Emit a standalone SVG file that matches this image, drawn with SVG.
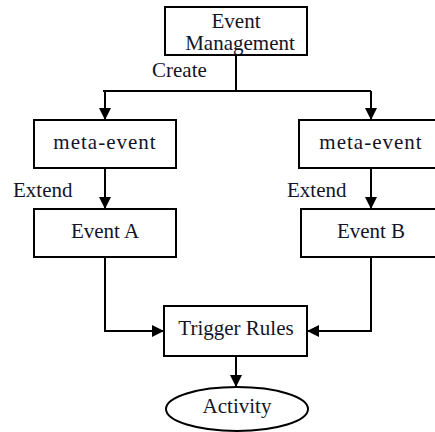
<svg xmlns="http://www.w3.org/2000/svg" width="435" height="432" viewBox="0 0 435 432">
<defs>
<marker id="arr" viewBox="0 0 12 12" refX="12" refY="6" markerWidth="12" markerHeight="12" markerUnits="userSpaceOnUse" orient="auto">
<path d="M0,0 L12,6 L0,12 Z" fill="#000"/>
</marker>
<style>
.box{fill:#fff;stroke:#000;stroke-width:2}
.t{font-family:"Liberation Serif","Times New Roman",serif;font-size:21px;fill:#141428}
.c{text-anchor:middle}
.ln{fill:none;stroke:#000;stroke-width:2}
</style>
</defs>
<rect width="435" height="432" fill="#fff"/>
<g id="connectors">
<path class="ln" d="M236,55 V91"/>
<path class="ln" d="M103,91 H371"/>
<path class="ln" d="M105,91 V120" marker-end="url(#arr)"/>
<path class="ln" d="M371,91 V120" marker-end="url(#arr)"/>
<path class="ln" d="M105,168 V209" marker-end="url(#arr)"/>
<path class="ln" d="M371,168 V209" marker-end="url(#arr)"/>
<path class="ln" d="M105,257 V331 H164" marker-end="url(#arr)"/>
<path class="ln" d="M371,257 V331 H307" marker-end="url(#arr)"/>
<path class="ln" d="M236,356 V387" marker-end="url(#arr)"/>
<text class="t" x="152" y="77">Create</text>
<text class="t" x="13" y="197">Extend</text>
<text class="t" x="287" y="197">Extend</text>
</g>
<g id="event-management">
<rect class="box" x="165" y="7" width="142" height="48"/>
<text class="t c" x="236" y="28">Event</text>
<text class="t c" x="240" y="50">Management</text>
</g>
<g id="meta-event-left">
<rect class="box" x="34" y="120" width="142" height="48"/>
<text class="t c" x="105" y="149" letter-spacing="1">meta-event</text>
</g>
<g id="meta-event-right">
<rect class="box" x="299" y="120" width="144" height="48"/>
<text class="t c" x="371" y="149" letter-spacing="1">meta-event</text>
</g>
<g id="event-a">
<rect class="box" x="34" y="209" width="142" height="48"/>
<text class="t c" x="105" y="238">Event A</text>
</g>
<g id="event-b">
<rect class="box" x="301" y="209" width="142" height="48"/>
<text class="t c" x="371" y="238">Event B</text>
</g>
<g id="trigger-rules">
<rect class="box" x="164" y="306" width="143" height="50"/>
<text class="t c" x="236" y="335">Trigger Rules</text>
</g>
<g id="activity">
<ellipse class="box" cx="237" cy="409" rx="71" ry="22"/>
<text class="t c" x="237" y="413">Activity</text>
</g>
</svg>
